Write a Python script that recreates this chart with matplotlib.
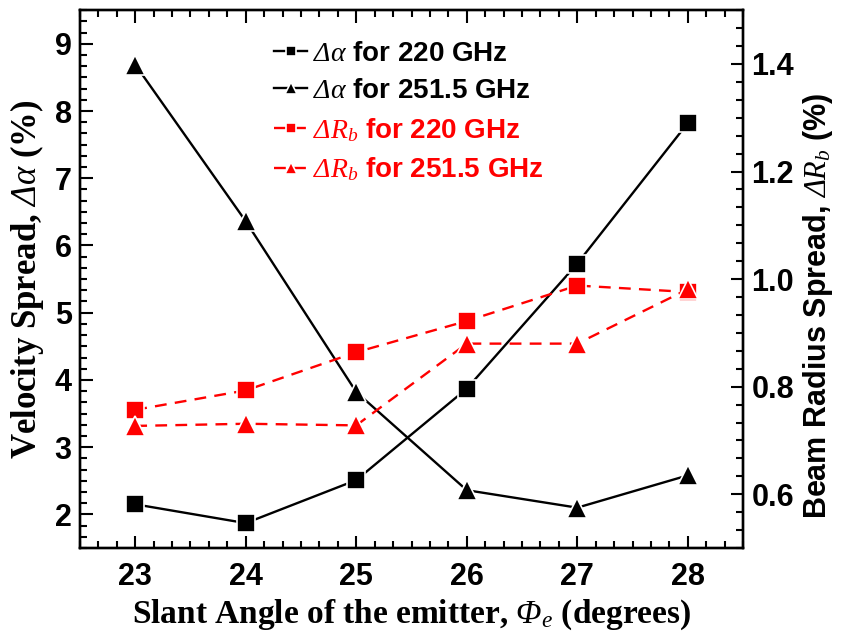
import matplotlib.pyplot as plt
from matplotlib.ticker import AutoMinorLocator, MultipleLocator

plt.rcParams['mathtext.fontset'] = 'custom'
plt.rcParams['mathtext.it'] = 'Liberation Serif:italic'
plt.rcParams['mathtext.rm'] = 'Liberation Serif:italic'

# slant angle of the emitter (degrees)
angle = [23, 24, 25, 26, 27, 28]
# velocity spread (%)
dalpha_220 = [2.15, 1.87, 2.51, 3.87, 5.73, 7.82]
dalpha_2515 = [8.69, 6.36, 3.82, 2.36, 2.10, 2.58]
# beam radius spread (%)
drb_220 = [0.757, 0.793, 0.864, 0.922, 0.988, 0.976]
drb_2515 = [0.727, 0.731, 0.728, 0.880, 0.880, 0.981]

fig = plt.figure(figsize=(8.41, 6.35), dpi=100)
ax = fig.add_axes([0.0951, 0.137, 0.7884, 0.847])
ax2 = ax.twinx()

ms_sq, ms_tri = 12.5, 15
dash = (0, (5, 3.5))
h1, = ax.plot(angle, dalpha_220, color='black', lw=1.7, marker='s', ms=ms_sq,
              mec='white', mew=1.2, label='$Δα$ for 220 GHz')
h2, = ax.plot(angle, dalpha_2515, color='black', lw=1.7, marker='^', ms=ms_tri,
              mec='white', mew=1.2, label='$Δα$ for 251.5 GHz')
h3, = ax2.plot(angle, drb_220, color='red', lw=1.7, ls=dash, marker='s',
               ms=ms_sq, mec='white', mew=1.2, label='$ΔR_b$ for 220 GHz')
h4, = ax2.plot(angle, drb_2515, color='red', lw=1.7, ls=dash, marker='^',
               ms=ms_tri, mec='white', mew=1.2, label='$ΔR_b$ for 251.5 GHz')

ax.set_xlim(22.5, 28.5)
ax.set_ylim(1.5, 9.5)
ax2.set_ylim(0.5, 1.5)

ax.xaxis.set_major_locator(MultipleLocator(1))
ax.yaxis.set_major_locator(MultipleLocator(1))
ax2.yaxis.set_major_locator(MultipleLocator(0.2))
for a in (ax.xaxis, ax.yaxis, ax2.yaxis):
    a.set_minor_locator(AutoMinorLocator(6))

ax.tick_params(which='both', direction='in', top=True, right=False, width=1.5)
ax.tick_params(which='major', length=9)
ax.tick_params(which='minor', length=5)
ax2.tick_params(which='both', direction='in', width=1.5)
ax2.tick_params(which='major', length=9)
ax2.tick_params(which='minor', length=5)
for a in (ax, ax2):
    for lbl in a.get_xticklabels() + a.get_yticklabels():
        lbl.set_fontfamily('Liberation Sans')
        lbl.set_fontweight('bold')
        lbl.set_fontsize(22)
    for s in a.spines.values():
        s.set_linewidth(1.7)
ax.tick_params(axis='x', pad=10)
ax.tick_params(axis='y', pad=6)
ax2.tick_params(axis='y', pad=6)

ax.set_xlabel('Slant Angle of the emitter, $Φ_e$ (degrees)',
              fontfamily='Liberation Serif', fontweight='bold', fontsize=24,
              labelpad=4)
ax.set_ylabel('Velocity Spread, $Δα$ (%)',
              fontfamily='Liberation Serif', fontweight='bold', fontsize=25,
              labelpad=6)
ax2.set_ylabel('Beam Radius Spread, $ΔR_b$ (%)',
               fontfamily='Liberation Sans', fontweight='bold', fontsize=22,
               rotation=90, va='center', ha='center')
ax2.yaxis.set_label_coords(1.113, 0.45)

leg = ax.legend(handles=[h1, h2, h3, h4], loc='upper left',
                bbox_to_anchor=(0.255, 0.99), frameon=False, handlelength=1.2,
                handletextpad=0.2, labelspacing=0.42, markerscale=0.6,
                prop={'family': 'Liberation Sans', 'weight': 'bold', 'size': 20})
for txt, h in zip(leg.get_texts(), [h1, h2, h3, h4]):
    txt.set_color(h.get_color())

fig.savefig('out.png', dpi=100)
